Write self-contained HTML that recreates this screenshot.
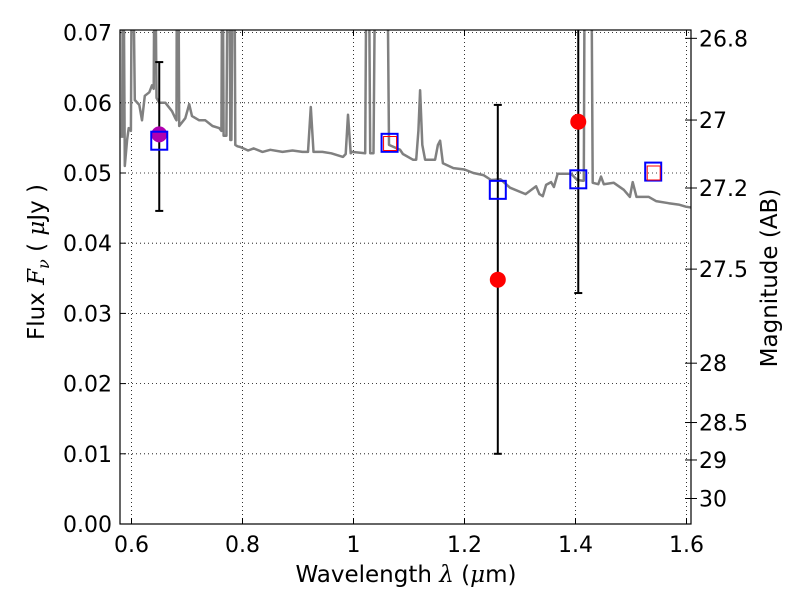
<!DOCTYPE html>
<html><head><meta charset="utf-8"><style>
body{margin:0;background:#fff;}
svg text{font-family:"DejaVu Sans","Liberation Sans",sans-serif;}
</style></head><body>
<svg id="chart" width="800" height="600"></svg>
<script>
const xTicks=[0.6,0.8,1.0,1.2,1.4,1.6];
const xTickLabels=["0.6","0.8","1","1.2","1.4","1.6"];
const yTicks=[0,0.01,0.02,0.03,0.04,0.05,0.06,0.07];
const yTickLabels=["0.00","0.01","0.02","0.03","0.04","0.05","0.06","0.07"];
const magTicks=[26.8,27,27.2,27.5,28,28.5,29,30];
const magTickLabels=["26.8","27","27.2","27.5","28","28.5","29","30"];
const specW=[0.583,0.585,0.588,0.592,0.595,0.599,0.601,0.603,0.606,0.614,0.619,0.624,0.632,0.637,0.640,0.642,0.645,0.650,0.661,0.673,0.679,0.681,0.682,0.684,0.686,0.697,0.704,0.709,0.722,0.733,0.746,0.758,0.762,0.764,0.766,0.771,0.774,0.776,0.778,0.780,0.783,0.785,0.787,0.791,0.796,0.810,0.820,0.836,0.850,0.872,0.890,0.908,0.918,0.923,0.928,0.944,0.960,0.981,0.986,0.990,0.995,0.997,1.021,1.024,1.027,1.030,1.036,1.040,1.047,1.049,1.060,1.064,1.084,1.089,1.107,1.113,1.117,1.120,1.124,1.129,1.147,1.152,1.156,1.161,1.180,1.200,1.216,1.234,1.248,1.265,1.282,1.310,1.329,1.335,1.341,1.347,1.356,1.361,1.368,1.392,1.403,1.413,1.415,1.417,1.426,1.428,1.431,1.441,1.446,1.451,1.469,1.487,1.498,1.503,1.510,1.532,1.545,1.568,1.586,1.599,1.615];
const specF=[0.055,0.090,0.051,0.0547,0.0564,0.056,0.090,0.080,0.0604,0.0597,0.0575,0.0610,0.0615,0.0625,0.0620,0.090,0.0607,0.0600,0.0600,0.0588,0.0578,0.0575,0.090,0.090,0.0567,0.0578,0.0598,0.0581,0.0575,0.0575,0.0567,0.0564,0.0560,0.090,0.0553,0.0553,0.090,0.090,0.0547,0.0547,0.090,0.090,0.0540,0.0538,0.0537,0.0532,0.0535,0.0530,0.0533,0.0530,0.0532,0.0530,0.0530,0.0594,0.0530,0.0530,0.0528,0.0523,0.0527,0.0583,0.0528,0.0530,0.0528,0.090,0.090,0.0528,0.0528,0.090,0.090,0.090,0.090,0.0540,0.0533,0.0527,0.0519,0.0519,0.0560,0.0618,0.0540,0.0519,0.0519,0.0540,0.0546,0.0514,0.0507,0.0505,0.0500,0.0497,0.0490,0.0491,0.0479,0.0470,0.0481,0.0470,0.0467,0.0483,0.0487,0.0480,0.0499,0.0499,0.0490,0.0489,0.0489,0.090,0.090,0.090,0.0486,0.0484,0.0495,0.0484,0.0486,0.0476,0.0466,0.0487,0.0466,0.0466,0.0460,0.0457,0.0455,0.0452,0.0450];
const errW=[0.650,1.260,1.405];
const errLo=[0.0446,0.0100,0.0329];
const errHi=[0.0658,0.0597,0.090];
const obsW=[0.650,1.260,1.405];
const obsF=[0.0555,0.0348,0.0573];
const obsColors=["#b000b0","red","red"];
const modelW=[0.650,1.065,1.260,1.405,1.540];
const modelF=[0.0546,0.0543,0.0476,0.0491,0.0502];
const redW=[1.065,1.540];
const redF=[0.0542,0.0500];

const L=120,R=691,T=30,B=524;
const x=w=>131.5+(w-0.6)*555;
const y=f=>B-f*7020;
const magToFlux=m=>Math.pow(10,(23.9-m)/2.5);
const svg=document.getElementById('chart');
const NS='http://www.w3.org/2000/svg';
function mk(tag,attrs,parent){const e=document.createElementNS(NS,tag);for(const k in attrs)e.setAttribute(k,attrs[k]);(parent||svg).appendChild(e);return e;}
const defs=mk('defs',{});
const cp=mk('clipPath',{id:'clip'},defs);
mk('rect',{x:L,y:T,width:R-L,height:B-T},cp);

const grid=mk('g',{});


xTicks.forEach((t,i)=>{
  const gl=mk('line',{x1:x(t),x2:x(t),y1:T,y2:B,stroke:'#000','stroke-width':0.8,'stroke-dasharray':'1,3'},grid);
  
  
  mk('line',{x1:x(t),x2:x(t),y1:B,y2:B-6,stroke:'#000'});
  mk('line',{x1:x(t),x2:x(t),y1:T,y2:T+6,stroke:'#000'});
  const tx=mk('text',{x:x(t),y:B+28,'font-size':22,'text-anchor':'middle'});
  tx.textContent=xTickLabels[i];
  
  
});
yTicks.forEach((t,i)=>{
  const gl=mk('line',{x1:L,x2:R,y1:y(t),y2:y(t),stroke:'#000','stroke-width':0.8,'stroke-dasharray':'1,3'},grid);
  
  
  mk('line',{x1:L,x2:L+6,y1:y(t),y2:y(t),stroke:'#000'});
  const tx=mk('text',{x:L-8,y:y(t)+8,'font-size':22,'text-anchor':'end'});
  tx.textContent=yTickLabels[i];
  
  
});
magTicks.forEach((m,i)=>{
  const yy=y(magToFlux(m));
  mk('line',{x1:R,x2:R+6,y1:yy,y2:yy,stroke:'#000'});
  mk('line',{x1:R,x2:R-6,y1:yy,y2:yy,stroke:'#000'});
  const tx=mk('text',{x:R+8,y:yy+8,'font-size':22});
  tx.textContent=magTickLabels[i];
  
  
});

const plot=mk('g',{'clip-path':'url(#clip)'});
const pts=specW.map((w,i)=>x(w).toFixed(1)+','+y(specF[i]).toFixed(1)).join(' ');
const spec=mk('polyline',{points:pts,fill:'none',stroke:'#808080','stroke-width':2.5,'stroke-linejoin':'round'},plot);



errW.forEach((w,i)=>{
  const g=mk('g',{},plot);
  
  
  mk('line',{x1:x(w),x2:x(w),y1:y(errLo[i]),y2:y(errHi[i]),stroke:'#000','stroke-width':2},g);
  mk('line',{x1:x(w)-4,x2:x(w)+4,y1:y(errLo[i]),y2:y(errLo[i]),stroke:'#000','stroke-width':2},g);
  mk('line',{x1:x(w)-4,x2:x(w)+4,y1:y(errHi[i]),y2:y(errHi[i]),stroke:'#000','stroke-width':2},g);
});
obsW.forEach((w,i)=>{
  const c=mk('circle',{cx:x(w),cy:y(obsF[i]),r:8,fill:obsColors[i]},plot);
  
  
});
modelW.forEach((w,i)=>{
  const s=mk('rect',{x:x(w)-8,y:y(modelF[i])-9,width:16,height:18,fill:'none',stroke:'blue','stroke-width':2},plot);
  
  
});
redW.forEach((w,i)=>{
  const s=mk('rect',{x:x(w)-6,y:y(redF[i])-7,width:13,height:14,fill:'none',stroke:'red','stroke-width':1},plot);
  
  
});

const frame=mk('rect',{x:L,y:T,width:R-L,height:B-T,fill:'none',stroke:'#000','stroke-width':1.2});



const xl=mk('text',{x:406,y:582,'font-size':23,'text-anchor':'middle'});
xl.innerHTML='Wavelength  <tspan font-style="italic" font-family="DejaVu Serif">λ</tspan> (<tspan font-style="italic" font-family="DejaVu Serif">μ</tspan>m)';


const yl=mk('text',{x:0,y:0,'font-size':23,'text-anchor':'middle',transform:'translate(44,262) rotate(-90)'});
yl.innerHTML='Flux  <tspan font-style="italic" font-family="DejaVu Serif">F<tspan font-size="16" dy="5">ν</tspan></tspan><tspan dy="-5">  ( </tspan><tspan font-style="italic" font-family="DejaVu Serif">μ</tspan>Jy )';


const yr=mk('text',{x:0,y:0,'font-size':23,'text-anchor':'middle',transform:'translate(777,278) rotate(-90)'});
yr.textContent='Magnitude (AB)';


</script>
</body></html>
